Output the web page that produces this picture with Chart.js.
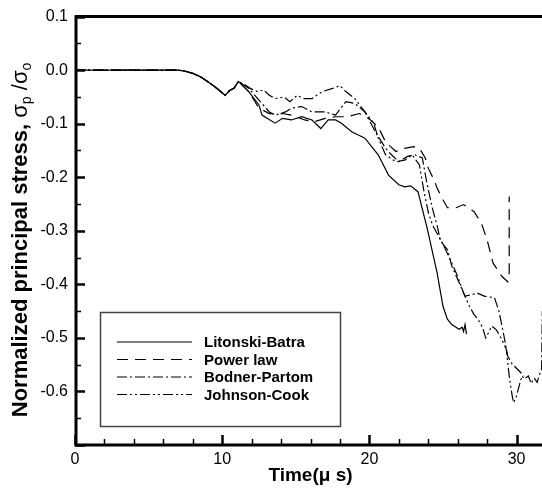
<!DOCTYPE html>
<html>
<head>
<meta charset="utf-8">
<script src="https://cdn.jsdelivr.net/npm/chart.js@4"></script>
<style>
  html, body { margin: 0; padding: 0; background: #fff; overflow: hidden; }
  #wrap { width: 546px; height: 489px; }
</style>
</head>
<body>
<div id="wrap"><canvas id="chart" width="546" height="489"></canvas></div>
<script>
// all four models agree up to ~11 us
const onsetTime = [0, 7, 7.5, 8, 8.5, 9, 9.5, 9.9, 10.2, 10.5, 10.8, 11.1];
const onsetStress = [0, 0, -0.002, -0.006, -0.012, -0.021, -0.031, -0.04, -0.047, -0.038, -0.034, -0.021];

const lbTime = [11.8, 12.5, 12.7, 13.6, 14.1, 14.7, 15.4, 16.1, 16.7, 17.2, 17.7, 18.1, 18.8, 19.7, 20.6, 21.3, 22.0, 22.4, 22.8, 23.3, 23.9, 24.6, 25.0, 25.3, 25.6, 26.1, 26.3, 26.4, 26.5, 26.6];
const lbStress = [-0.040, -0.065, -0.084, -0.099, -0.090, -0.093, -0.087, -0.093, -0.109, -0.093, -0.093, -0.099, -0.115, -0.127, -0.158, -0.196, -0.214, -0.218, -0.216, -0.227, -0.292, -0.378, -0.441, -0.465, -0.475, -0.484, -0.48, -0.488, -0.475, -0.493];

const plTime = [11.8, 12.5, 13.2, 14.1, 14.7, 15.6, 16.3, 17.0, 17.7, 18.5, 19.3, 19.95, 20.6, 21.1, 21.8, 22.4, 23.0, 23.4, 23.8, 24.0, 24.4, 24.6, 25.0, 25.3, 25.9, 26.4, 27.1, 27.6, 28.0, 28.4, 29.0, 29.4, 29.5, 29.5];
const plStress = [-0.04, -0.071, -0.081, -0.081, -0.084, -0.093, -0.096, -0.090, -0.087, -0.087, -0.081, -0.090, -0.106, -0.134, -0.152, -0.146, -0.143, -0.146, -0.164, -0.183, -0.205, -0.22, -0.242, -0.257, -0.257, -0.251, -0.264, -0.285, -0.317, -0.36, -0.385, -0.395, -0.39, -0.236];

const bpTime = [11.8, 12.5, 13.2, 13.6, 14.3, 14.7, 15.4, 16.1, 17.0, 17.7, 18.4, 19.0, 19.7, 20.4, 21.1, 21.5, 22.0, 22.6, 23.1, 23.6, 23.9, 24.3, 24.6, 24.8, 25.0, 25.3, 25.6, 26.1, 26.5, 27.0, 27.3, 27.8, 28.5, 28.8, 29.1, 29.4, 29.7, 30.3, 30.5, 30.8, 31.0, 31.2, 31.4, 31.6, 31.7, 31.75];
const bpStress = [-0.034, -0.056, -0.078, -0.084, -0.078, -0.071, -0.068, -0.078, -0.078, -0.084, -0.059, -0.062, -0.078, -0.115, -0.146, -0.158, -0.171, -0.161, -0.158, -0.164, -0.21, -0.26, -0.29, -0.315, -0.325, -0.335, -0.366, -0.397, -0.422, -0.419, -0.416, -0.422, -0.425, -0.45, -0.49, -0.534, -0.549, -0.565, -0.577, -0.571, -0.585, -0.575, -0.583, -0.565, -0.56, -0.45];

const jcTime = [11.6, 11.9, 12.4, 12.8, 13.2, 13.6, 14.2, 14.6, 15.1, 15.5, 16.1, 16.8, 17.5, 18.0, 18.4, 19.0, 19.95, 20.3, 20.6, 21.1, 21.8, 22.4, 22.9, 23.4, 23.7, 24.0, 24.3, 24.6, 25.0, 25.5, 26.0, 26.4, 26.8, 27.1, 27.4, 27.7, 27.9, 28.1, 28.3, 28.6, 28.8, 29.0, 29.3, 29.5, 29.7, 29.8, 30.0, 30.3, 30.5];
const jcStress = [-0.028, -0.034, -0.040, -0.037, -0.047, -0.053, -0.050, -0.059, -0.047, -0.053, -0.053, -0.040, -0.034, -0.029, -0.040, -0.053, -0.087, -0.099, -0.127, -0.158, -0.171, -0.168, -0.158, -0.177, -0.225, -0.265, -0.29, -0.305, -0.325, -0.354, -0.385, -0.416, -0.441, -0.456, -0.466, -0.481, -0.5, -0.49, -0.478, -0.484, -0.493, -0.503, -0.521, -0.571, -0.608, -0.621, -0.608, -0.577, -0.571];

const seriesNames = ['Litonski-Batra', 'Power law', 'Bodner-Partom', 'Johnson-Cook'];
const xTicks = [0, 10, 20, 30];
const yTicks = [0.1, 0.0, -0.1, -0.2, -0.3, -0.4, -0.5, -0.6];

const FONT = "'Liberation Sans', Arial, sans-serif";

function toPoints(ts, vs) {
  const t = onsetTime.concat(ts);
  const v = onsetStress.concat(vs);
  return t.map((x, i) => ({ x: x, y: v[i] }));
}

const dashes = [[], [11, 7], [10, 3, 2, 3], [10, 3, 2, 3, 2, 3]];

// frame, inward ticks, titles and boxed legend
const decorations = {
  id: 'decorations',
  afterDraw(chart) {
    const { ctx, chartArea: a, scales: { x, y } } = chart;
    ctx.save();
    ctx.strokeStyle = '#000';
    ctx.lineCap = 'butt';

    // inward ticks
    for (let v = -0.7; v <= 0.1001; v += 0.05) {
      const major = Math.abs(Math.round(v * 20)) % 2 === 0;
      const py = Math.round(y.getPixelForValue(v)) + 0.5;
      ctx.lineWidth = major ? 2.5 : 1.5;
      ctx.beginPath();
      ctx.moveTo(a.left, py);
      ctx.lineTo(a.left + (major ? 10 : 6), py);
      ctx.stroke();
    }
    for (let t = 0; t <= 32; t += 2) {
      const major = t % 10 === 0;
      const px = Math.round(x.getPixelForValue(t)) + 0.5;
      ctx.lineWidth = major ? 2.5 : 1.5;
      ctx.beginPath();
      ctx.moveTo(px, a.bottom);
      ctx.lineTo(px, a.bottom - (major ? 10 : 6));
      ctx.stroke();
    }

    // frame (right side falls off the picture)
    ctx.lineWidth = 3;
    ctx.beginPath();
    ctx.moveTo(a.right + 2, a.top);
    ctx.lineTo(a.left + 1, a.top);
    ctx.lineTo(a.left + 1, a.bottom);
    ctx.lineTo(a.right + 2, a.bottom);
    ctx.stroke();

    // axis titles
    ctx.fillStyle = '#000';
    ctx.textBaseline = 'middle';
    ctx.textAlign = 'center';
    ctx.font = 'bold 19px ' + FONT;
    ctx.fillText('Time(\u03bc s)', (a.left + a.right) / 2, 476);

    const parts = [
      { t: 'Normalized principal stress, ', f: 'bold 22px ' + FONT, dy: 0 },
      { t: '\u03c3', f: '22px ' + FONT, dy: 0 },
      { t: 'p', f: '14px ' + FONT, dy: 6 },
      { t: ' /', f: '22px ' + FONT, dy: 0 },
      { t: '\u03c3', f: '22px ' + FONT, dy: 0 },
      { t: 'o', f: '14px ' + FONT, dy: 6 }
    ];
    let total = 0;
    parts.forEach(p => { ctx.font = p.f; p.w = ctx.measureText(p.t).width; total += p.w; });
    ctx.translate(21, 240);
    ctx.rotate(-Math.PI / 2);
    ctx.textAlign = 'left';
    let cx = -total / 2;
    parts.forEach(p => { ctx.font = p.f; ctx.fillText(p.t, cx, p.dy); cx += p.w; });
    ctx.restore();

    // legend box
    ctx.save();
    ctx.fillStyle = '#fff';
    ctx.fillRect(100, 312, 241, 115);
    ctx.strokeStyle = '#444';
    ctx.lineWidth = 1.5;
    ctx.strokeRect(100.5, 312.5, 240, 114);
    ctx.font = 'bold 15px ' + FONT;
    ctx.textBaseline = 'middle';
    ctx.textAlign = 'left';
    chart.data.datasets.forEach((ds, i) => {
      const ry = 342 + i * 17.5;
      ctx.strokeStyle = '#000';
      ctx.lineWidth = 1.2;
      ctx.setLineDash(ds.borderDash || []);
      ctx.beginPath();
      ctx.moveTo(117, ry);
      ctx.lineTo(192, ry);
      ctx.stroke();
      ctx.setLineDash([]);
      ctx.fillStyle = '#000';
      ctx.fillText(ds.label, 204, ry + 1);
    });
    ctx.restore();
  }
};

const allData = [
  toPoints(lbTime, lbStress),
  toPoints(plTime, plStress),
  toPoints(bpTime, bpStress),
  toPoints(jcTime, jcStress)
];

new Chart(document.getElementById('chart'), {
  type: 'line',
  data: {
    datasets: seriesNames.map((name, i) => ({
      label: name,
      data: allData[i],
      borderColor: '#000',
      borderWidth: 1.2,
      borderDash: dashes[i],
      pointRadius: 0,
      tension: 0,
      fill: false
    }))
  },
  options: {
    responsive: false,
    animation: false,
    layout: { padding: { top: 16, left: 0, right: 0, bottom: 0 } },
    plugins: { legend: { display: false }, tooltip: { enabled: false } },
    scales: {
      x: {
        type: 'linear',
        min: 0,
        max: 32,
        afterBuildTicks(scale) { scale.ticks = xTicks.map(v => ({ value: v })); },
        afterFit(scale) { scale.height = 44; },
        grid: { display: false, tickLength: 0 },
        border: { display: false },
        ticks: {
          color: '#000',
          font: { family: FONT, size: 16 },
          padding: 5,
          maxRotation: 0,
          callback: v => String(v)
        }
      },
      y: {
        min: -0.7,
        max: 0.1,
        afterBuildTicks(scale) { scale.ticks = yTicks.map(v => ({ value: v })); },
        afterFit(scale) { scale.width = 75; },
        grid: { display: false, tickLength: 0 },
        border: { display: false },
        ticks: {
          color: '#000',
          font: { family: FONT, size: 16 },
          padding: 7,
          callback: v => v.toFixed(1)
        }
      }
    }
  },
  plugins: [decorations]
});
</script>
</body>
</html>
